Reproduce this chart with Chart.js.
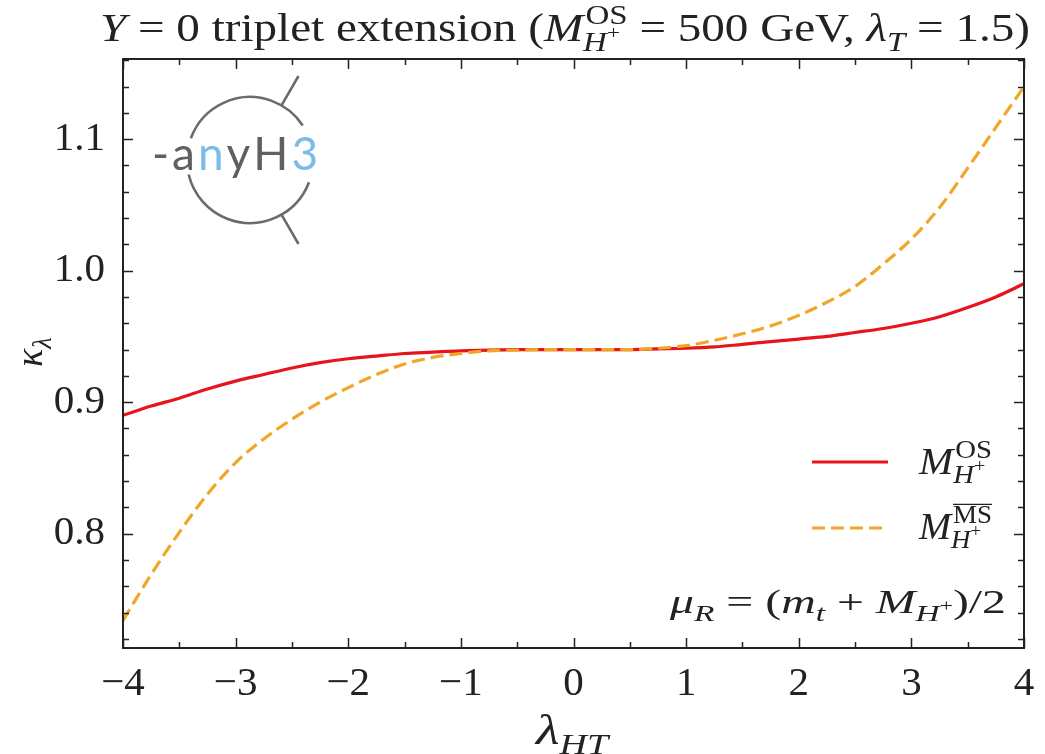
<!DOCTYPE html>
<html>
<head>
<meta charset="utf-8">
<title>kappa_lambda vs lambda_HT</title>
<script src="https://cdn.jsdelivr.net/npm/chart.js@4.4.1/dist/chart.umd.min.js"></script>
<style>
  html, body { margin: 0; padding: 0; background: #fff; }
  #wrap { width: 1045px; height: 754px; position: relative; }
</style>
</head>
<body>
<div id="wrap"><canvas id="chart"></canvas></div>
<script>
// lambda_HT sample points
const lambdaHT = [-4, -3.75, -3.5, -3.25, -3, -2.75, -2.5, -2.25, -2, -1.75, -1.5, -1.25, -1, -0.75, -0.5, -0.25,
  0, 0.25, 0.5, 0.75, 1, 1.25, 1.5, 1.75, 2, 2.25, 2.5, 2.75, 3, 3.25, 3.5, 3.75, 4];

// kappa_lambda with on-shell M_H+
const kappaOS = [0.890, 0.897, 0.903, 0.910, 0.916, 0.921, 0.926, 0.930, 0.933, 0.935, 0.937, 0.938, 0.939, 0.9395, 0.940, 0.940,
  0.940, 0.940, 0.940, 0.9405, 0.941, 0.942, 0.944, 0.946, 0.948, 0.950, 0.953, 0.956, 0.960, 0.965, 0.972, 0.980, 0.990];

// kappa_lambda with MSbar M_H+
const kappaMS = [0.734, 0.769, 0.801, 0.830, 0.854, 0.872, 0.887, 0.900, 0.911, 0.921, 0.929, 0.934, 0.937, 0.939, 0.9395, 0.940,
  0.940, 0.940, 0.940, 0.941, 0.943, 0.947, 0.952, 0.958, 0.966, 0.976, 0.988, 1.005, 1.024, 1.048, 1.078, 1.109, 1.140];

const xTicks = [-4, -3, -2, -1, 0, 1, 2, 3, 4];
const yTicks = [0.8, 0.9, 1.0, 1.1];
const xRange = [-4, 4];
const yRange = [0.713, 1.161];

const RED = '#e8141c';
const ORANGE = '#f0a626';
const INK = '#222';
const SERIF = '"Liberation Serif", "DejaVu Serif", serif';

const fontOf = (size, italic) => (italic ? 'italic ' : '') + size + 'px ' + SERIF;

/* ------------------------------
   tiny rich-text helper (sub / superscripts)
------------------------------ */
function runsWidth(ctx, runs, size) {
  let w = 0;
  for (const r of runs) {
    if (r.sup || r.sub) {
      const s = size * 0.7;
      w += Math.max(runsWidth(ctx, r.sup || [], s) + (r.kern || 0) * size, runsWidth(ctx, r.sub || [], s));
    } else {
      ctx.font = fontOf(size, r.i);
      w += ctx.measureText(r.t).width;
    }
  }
  return w;
}

function drawRuns(ctx, runs, x, y, size) {
  for (const r of runs) {
    if (r.sup || r.sub) {
      const s = size * 0.7;
      const wSup = runsWidth(ctx, r.sup || [], s);
      const wSub = runsWidth(ctx, r.sub || [], s);
      const sx = x + (r.kern || 0) * size;
      if (r.sup) drawRuns(ctx, r.sup, sx, y - size * 0.42, s);
      if (r.sub) drawRuns(ctx, r.sub, x, y + size * 0.24, s);
      if (r.bar) {
        ctx.save();
        ctx.strokeStyle = ctx.fillStyle;
        ctx.lineWidth = 1.3;
        ctx.beginPath();
        const by = y - size * 0.42 - s * 0.74;
        ctx.moveTo(sx, by);
        ctx.lineTo(sx + wSup, by);
        ctx.stroke();
        ctx.restore();
      }
      x += Math.max(wSup + (r.kern || 0) * size, wSub);
    } else {
      ctx.font = fontOf(size, r.i);
      ctx.fillText(r.t, x, y);
      x += ctx.measureText(r.t).width;
    }
  }
  return x;
}

// draw runs stretched horizontally so they span [x0, x0 + width]
function drawRunsSpan(ctx, runs, x0, width, y, size) {
  const w = runsWidth(ctx, runs, size);
  ctx.save();
  ctx.translate(x0, y);
  ctx.scale(width / w, 1);
  drawRuns(ctx, runs, 0, 0, size);
  ctx.restore();
}

const hPlus = [{ t: 'H', i: true }, { sup: [{ t: '+' }] }];

const titleRuns = [
  { t: 'Y', i: true }, { t: ' = 0 triplet extension (' },
  { t: 'M', i: true }, { sup: [{ t: 'OS' }], sub: hPlus, kern: 0.05 },
  { t: ' = 500 GeV, ' },
  { t: 'λ', i: true }, { sub: [{ t: 'T', i: true }] },
  { t: ' = 1.5)' }
];
const osRuns = [{ t: 'M', i: true }, { sup: [{ t: 'OS' }], sub: hPlus, kern: 0.05 }];
const msRuns = [{ t: 'M', i: true }, { sup: [{ t: 'MS' }], sub: hPlus, kern: 0.05, bar: true }];
const muRuns = [
  { t: 'μ', i: true }, { sub: [{ t: 'R', i: true }] }, { t: ' = (' },
  { t: 'm', i: true }, { sub: [{ t: 't', i: true }] }, { t: ' + ' },
  { t: 'M', i: true }, { sub: hPlus }, { t: ')/2' }
];
const xTitleRuns = [{ t: 'λ', i: true }, { sub: [{ t: 'HT', i: true }] }];
const yTitleRuns = [{ t: 'κ', i: true }, { sub: [{ t: 'λ', i: true }] }];

/* ------------------------------
   frame, inward ticks, labels, legend, logo
------------------------------ */
const decorPlugin = {
  id: 'decor',
  afterDraw(chart) {
    const { ctx, chartArea: a, scales } = chart;
    const sx = scales.x, sy = scales.y;
    ctx.save();

    // inward ticks on all four sides
    ctx.strokeStyle = INK;
    ctx.lineWidth = 1.5;
    ctx.beginPath();
    for (let v = xRange[0]; v <= xRange[1] + 1e-9; v += 0.5) {
      const px = Math.round(sx.getPixelForValue(v)) + 0.5;
      const len = Number.isInteger(v) ? 10 : 6;
      ctx.moveTo(px, a.bottom); ctx.lineTo(px, a.bottom - len);
      ctx.moveTo(px, a.top); ctx.lineTo(px, a.top + len);
    }
    for (let k = 36; k <= 58; k++) {
      const v = k * 0.02;
      if (v < yRange[0] || v > yRange[1]) continue;
      const py = Math.round(sy.getPixelForValue(v)) + 0.5;
      const len = (k % 5 === 0) ? 10 : 6;
      ctx.moveTo(a.left, py); ctx.lineTo(a.left + len, py);
      ctx.moveTo(a.right, py); ctx.lineTo(a.right - len, py);
    }
    ctx.stroke();

    // frame
    ctx.lineWidth = 2;
    ctx.strokeRect(a.left, a.top, a.right - a.left, a.bottom - a.top);

    ctx.fillStyle = INK;
    ctx.textBaseline = 'alphabetic';

    // title
    drawRunsSpan(ctx, titleRuns, 100, 930, 41, 40);

    // axis titles
    drawRunsSpan(ctx, xTitleRuns, 536, 72, 744, 42);

    ctx.save();
    ctx.translate(42, 352);
    ctx.rotate(-Math.PI / 2);
    const yw = runsWidth(ctx, yTitleRuns, 38);
    drawRuns(ctx, yTitleRuns, -yw / 2, 0, 38);
    ctx.restore();

    // legend
    ctx.lineWidth = 3.2;
    ctx.strokeStyle = RED;
    ctx.beginPath(); ctx.moveTo(812, 462); ctx.lineTo(888, 462); ctx.stroke();
    ctx.strokeStyle = ORANGE;
    ctx.setLineDash([13, 6]);
    ctx.beginPath(); ctx.moveTo(812, 528); ctx.lineTo(888, 528); ctx.stroke();
    ctx.setLineDash([]);
    drawRunsSpan(ctx, osRuns, 919, 73, 474, 37);
    drawRunsSpan(ctx, msRuns, 919, 73, 539, 37);

    // renormalisation scale note
    drawRunsSpan(ctx, muRuns, 670, 336, 613, 34);

    // anyH3 logo
    const cx = 250, cy = 160, r = 63;
    ctx.strokeStyle = '#6b6b6b';
    ctx.lineWidth = 2.6;
    ctx.beginPath(); ctx.arc(cx, cy, r, -2.79, -0.58); ctx.stroke();
    ctx.beginPath(); ctx.arc(cx, cy, r, 0.36, 2.91); ctx.stroke();
    ctx.beginPath();
    for (const ang of [-Math.PI / 3, Math.PI / 3]) {
      ctx.moveTo(cx + r * Math.cos(ang), cy + r * Math.sin(ang));
      ctx.lineTo(cx + (r + 34) * Math.cos(ang), cy + (r + 34) * Math.sin(ang));
    }
    ctx.stroke();

    const glyphs = [['-', '#606060'], ['a', '#606060'], ['n', '#7bbbe8'], ['y', '#606060'], ['H', '#606060'], ['3', '#7bbbe8']];
    ctx.font = '46px Lato, "Noto Sans", sans-serif';
    let gx = 152;
    for (const [g, c] of glyphs) {
      ctx.fillStyle = c;
      ctx.fillText(g, gx, 170);
      gx += ctx.measureText(g).width + 3;
    }

    ctx.restore();
  }
};

const ctx = document.getElementById('chart').getContext('2d');
new Chart(ctx, {
  type: 'line',
  data: {
    datasets: [
      {
        label: 'M_H+ (MS-bar)',
        data: lambdaHT.map((x, i) => ({ x, y: kappaMS[i] })),
        borderColor: ORANGE,
        borderWidth: 3.2,
        borderDash: [13, 6],
        pointRadius: 0,
        cubicInterpolationMode: 'monotone',
        order: 0
      },
      {
        label: 'M_H+ (OS)',
        data: lambdaHT.map((x, i) => ({ x, y: kappaOS[i] })),
        borderColor: RED,
        borderWidth: 3.2,
        pointRadius: 0,
        cubicInterpolationMode: 'monotone',
        order: 1
      }
    ]
  },
  options: {
    responsive: true,
    maintainAspectRatio: false,
    animation: false,
    devicePixelRatio: 1,
    layout: { padding: { top: 59, right: 21, left: 0, bottom: 0 } },
    plugins: {
      legend: { display: false },
      title: { display: false },
      tooltip: { enabled: false }
    },
    scales: {
      x: {
        type: 'linear',
        min: xRange[0],
        max: xRange[1],
        grid: { display: false },
        border: { display: false },
        afterBuildTicks: s => { s.ticks = xTicks.map(v => ({ value: v })); },
        afterFit: s => { s.height = 106; },
        ticks: {
          padding: 4,
          color: INK,
          font: { family: SERIF, size: 41 },
          callback: v => (v < 0 ? '\u2212' + Math.abs(v) : String(v))
        }
      },
      y: {
        type: 'linear',
        min: yRange[0],
        max: yRange[1],
        grid: { display: false },
        border: { display: false },
        afterBuildTicks: s => { s.ticks = yTicks.map(v => ({ value: v })); },
        afterFit: s => { s.width = 123; },
        ticks: {
          padding: 10,
          color: INK,
          font: { family: SERIF, size: 41 },
          callback: v => Number(v).toFixed(1)
        }
      }
    }
  },
  plugins: [decorPlugin]
});
</script>
</body>
</html>
